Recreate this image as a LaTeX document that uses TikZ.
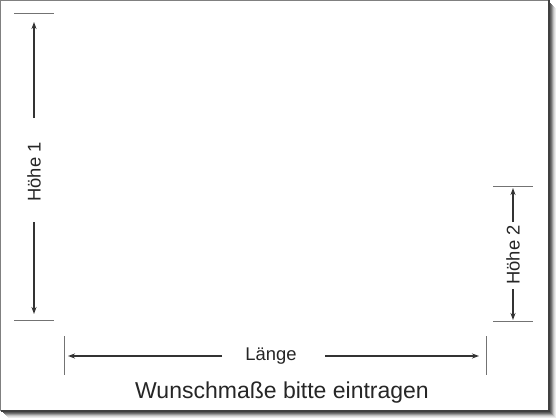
\documentclass[tikz,border=0pt]{standalone}
\usepackage{fontspec}
\setmainfont{Liberation Sans}
\usetikzlibrary{arrows.meta}
\begin{document}
\begin{tikzpicture}[x=1pt,y=-1pt,
  dimarrow/.style={draw=black!80,line width=1.4pt,-{Stealth[length=7pt,width=5pt]}},
  dimline/.style={draw=black!80,line width=1.4pt},
  tickline/.style={draw=black!55,line width=0.9pt},
  lbl/.style={font=\fontsize{18.4}{18}\selectfont,text=black!85,inner sep=0pt},
  ttl/.style={font=\fontsize{23}{23}\selectfont,text=black!85,inner sep=0pt}]
\useasboundingbox (0,0) rectangle (560,420);
% shadow
\foreach \i/\c in {7/8,6/15,5/25,4/40,3/55,2/65,1/70}{
  \fill[black!\c] (1+\i,1+\i) rectangle (549+\i,411+\i);
}
\fill[white] (0,0) rectangle (549,411);
\draw[black!50,line width=1pt] (0.5,0.5) -- (0.5,411) (0.5,0.5) -- (549,0.5);
\draw[black!75,line width=1.5pt] (549,0.5) -- (549,411) -- (0.5,411);
% Hoehe 1
\coordinate (h1ta) at (14,13); \coordinate (h1tb) at (54,13);
\coordinate (h1ba) at (14,320); \coordinate (h1bb) at (54,320);
\coordinate (h1up) at (34,118); \coordinate (h1upe) at (34,22);
\coordinate (h1dn) at (34,222); \coordinate (h1dne) at (34,314);
\draw[tickline] (h1ta) -- (h1tb);
\draw[tickline] (h1ba) -- (h1bb);
\draw[dimarrow] (h1up) -- (h1upe);
\draw[dimarrow] (h1dn) -- (h1dne);
\node[lbl,rotate=90] (h1) at (34,172) {Höhe 1};
% Hoehe 2
\coordinate (h2ta) at (493,186); \coordinate (h2tb) at (533,186);
\coordinate (h2ba) at (493,321); \coordinate (h2bb) at (533,321);
\coordinate (h2up) at (513,222); \coordinate (h2upe) at (513,188);
\coordinate (h2dn) at (513,289); \coordinate (h2dne) at (513,320);
\draw[tickline] (h2ta) -- (h2tb);
\draw[tickline] (h2ba) -- (h2bb);
\draw[dimarrow] (h2up) -- (h2upe);
\draw[dimarrow] (h2dn) -- (h2dne);
\node[lbl,rotate=90] (h2) at (513,255) {Höhe 2};
% Laenge
\coordinate (lla) at (64,336); \coordinate (llb) at (64,375);
\coordinate (lra) at (486,336); \coordinate (lrb) at (486,375);
\coordinate (ll) at (222,356); \coordinate (lle) at (68,356);
\coordinate (lr) at (325,356); \coordinate (lre) at (479,356);
\draw[tickline] (lla) -- (llb);
\draw[tickline] (lra) -- (lrb);
\draw[dimarrow] (ll) -- (lle);
\draw[dimarrow] (lr) -- (lre);
\node[lbl] (lg) at (271,356) {Länge};
% title
\node[ttl] (title) at (282,393) {Wunschmaße bitte eintragen};
\end{tikzpicture}
\end{document}
